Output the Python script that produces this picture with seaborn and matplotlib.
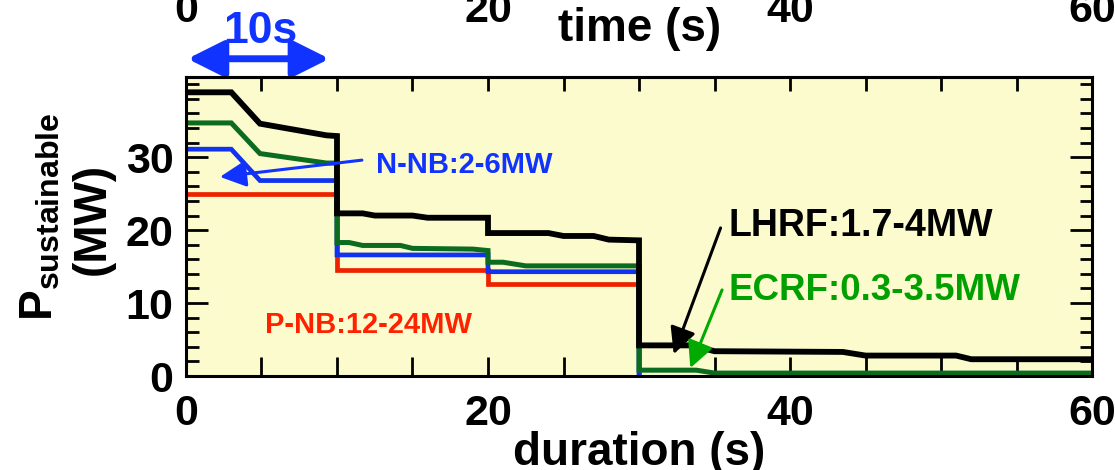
import matplotlib
matplotlib.use("Agg")
import matplotlib.pyplot as plt
from matplotlib.ticker import MultipleLocator, FixedLocator
import pandas as pd
import seaborn as sns

# Sustainable heating power versus pulse duration (s, MW)
lhrf_t = [0, 3, 4.9, 9.3, 10, 10, 11.7, 12.5, 15, 16, 20, 20, 24, 25, 27, 28, 30, 30,
          33.5, 35, 43.5, 45, 51, 52, 60]
lhrf_p = [38.9, 38.9, 34.6, 33.0, 32.9, 22.3, 22.3, 22.0, 22.0, 21.7, 21.7, 19.6, 19.6,
          19.2, 19.2, 18.7, 18.6, 4.2, 4.2, 3.4, 3.3, 2.8, 2.8, 2.3, 2.3]
ecrf_t = [0, 3, 4.9, 9.3, 10, 10, 10.8, 11.7, 14.2, 15, 19, 20, 20, 21, 22.5, 30, 30,
          33.8, 35, 60]
ecrf_p = [34.7, 34.7, 30.5, 29.2, 29.2, 18.3, 18.3, 17.9, 17.9, 17.5, 17.4, 17.2, 15.6,
          15.6, 15.1, 15.1, 0.8, 0.8, 0.4, 0.4]
nnb_t = [0, 3, 4.9, 10, 10, 20, 20, 30, 30]
nnb_p = [31.1, 31.1, 26.8, 26.8, 16.6, 16.6, 14.3, 14.3, 0]
pnb_t = [0, 10, 10, 20, 20, 30, 30]
pnb_p = [24.9, 24.9, 14.5, 14.5, 12.6, 12.6, 0]

x_ticks = [0, 20, 40, 60]
y_ticks = [0, 10, 20, 30]

sns.set_style("ticks")
plt.rcParams["font.family"] = ["Liberation Sans", "DejaVu Sans"]
plt.rcParams["font.weight"] = "bold"
plt.rcParams["text.color"] = "black"
plt.rcParams["axes.labelcolor"] = "black"
plt.rcParams["mathtext.fontset"] = "custom"
plt.rcParams["mathtext.rm"] = "Liberation Sans:bold"
plt.rcParams["mathtext.it"] = "Liberation Sans:bold"
plt.rcParams["mathtext.bf"] = "Liberation Sans:bold"

BG = "#fbfbcd"
BLACK = "#000000"
GREEN_LINE = "#0b6b1f"
GREEN_TXT = "#00a000"
BLUE = "#1133ee"
RED = "#ee2200"

fig = plt.figure(figsize=(11.15, 4.70), dpi=100)
ax = fig.add_axes([0.1668, 0.2, 0.9794 - 0.1668, 0.8362 - 0.2])
ax.set_facecolor(BG)

traces = [
    ("P-NB", pnb_t, pnb_p, RED, 3.4),
    ("N-NB", nnb_t, nnb_p, BLUE, 3.4),
    ("ECRF", ecrf_t, ecrf_p, GREEN_LINE, 3.6),
    ("LHRF", lhrf_t, lhrf_p, BLACK, 4.2),
]
for z, (name, t, p, col, lw) in enumerate(traces):
    df = pd.DataFrame({"duration": t, "power": p})
    sns.lineplot(data=df, x="duration", y="power", estimator=None, sort=False,
                 color=col, linewidth=lw, ax=ax, zorder=2 + z,
                 solid_joinstyle="miter")

ax.set_xlim(0, 60)
ax.set_ylim(0, 41)
ax.xaxis.set_major_locator(FixedLocator(x_ticks))
ax.xaxis.set_minor_locator(MultipleLocator(5))
ax.yaxis.set_major_locator(FixedLocator(y_ticks))
ax.yaxis.set_minor_locator(MultipleLocator(2))
ax.tick_params(axis="both", which="both", direction="in", width=2, labelsize=31,
               colors="black")
ax.tick_params(axis="x", which="both", length=14, pad=13, top=False)
ax.tick_params(axis="y", which="major", length=16, pad=9, right=True)
ax.tick_params(axis="y", which="minor", length=9, right=True)
for s in ax.spines.values():
    s.set_linewidth(2.2)
    s.set_color("black")
    s.set_zorder(10)

top = ax.secondary_xaxis("top")
top.xaxis.set_major_locator(FixedLocator(x_ticks))
top.xaxis.set_minor_locator(MultipleLocator(5))
top.tick_params(axis="x", which="both", direction="in", length=10, width=2,
                pad=33, labelsize=31, colors="black")
top.spines["top"].set_linewidth(2.2)

ax.set_xlabel("duration (s)", fontsize=33, fontweight="bold", labelpad=-2,
              color="black")
ax.set_ylabel("")
ax.text(0.501, 1.16, "time (s)", transform=ax.transAxes, fontsize=33,
        fontweight="bold", ha="center", va="center", color="black")

fig.text(0.036, 0.539, r"P$_{\rm sustainable}$", rotation=90, fontsize=33,
         ha="center", va="center", color="black")
fig.text(0.083, 0.535, "(MW)", rotation=90, fontsize=33, fontweight="bold",
         ha="center", va="center", color="black")

# labels and pointers for each heating system
def pointer(tip, tail, col, lw=2.2, scale=20):
    ax.annotate("", xy=tip, xytext=tail, annotation_clip=False,
                arrowprops=dict(arrowstyle="-|>,head_length=0.8,head_width=0.4",
                                mutation_scale=scale, color=col, lw=lw,
                                shrinkA=0, shrinkB=0), zorder=12)

pointer((2.25, 27.3), (11.65, 29.6), "#1133ff")
pointer((32.3, 3.0), (35.4, 20.3), BLACK)
pointer((33.4, 1.1), (35.5, 11.8), "#00aa00")

ax.text(12.6, 27.8, "N-NB:2-6MW", color="#1133ff", fontsize=21, ha="left",
        va="baseline", zorder=12)
ax.text(5.2, 5.9, "P-NB:12-24MW", color="#ff2200", fontsize=21, ha="left",
        va="baseline", zorder=12)
ax.text(35.9, 19.2, "LHRF:1.7-4MW", color=BLACK, fontsize=27, ha="left",
        va="baseline", zorder=12)
ax.text(35.9, 10.4, "ECRF:0.3-3.5MW", color=GREEN_TXT, fontsize=26.5, ha="left",
        va="baseline", zorder=12)

ax.annotate("", xy=(9.5, 43.5), xytext=(0.1, 43.5), annotation_clip=False,
            arrowprops=dict(arrowstyle="<|-|>,head_length=1.0,head_width=0.5",
                            mutation_scale=22, color="#1133ff", lw=5,
                            shrinkA=0, shrinkB=0))
ax.text(4.9, 45.6, "10s", color="#1133ff", fontsize=32, ha="center",
        va="baseline", clip_on=False)

fig.savefig("out.png", dpi=100, facecolor="white")
